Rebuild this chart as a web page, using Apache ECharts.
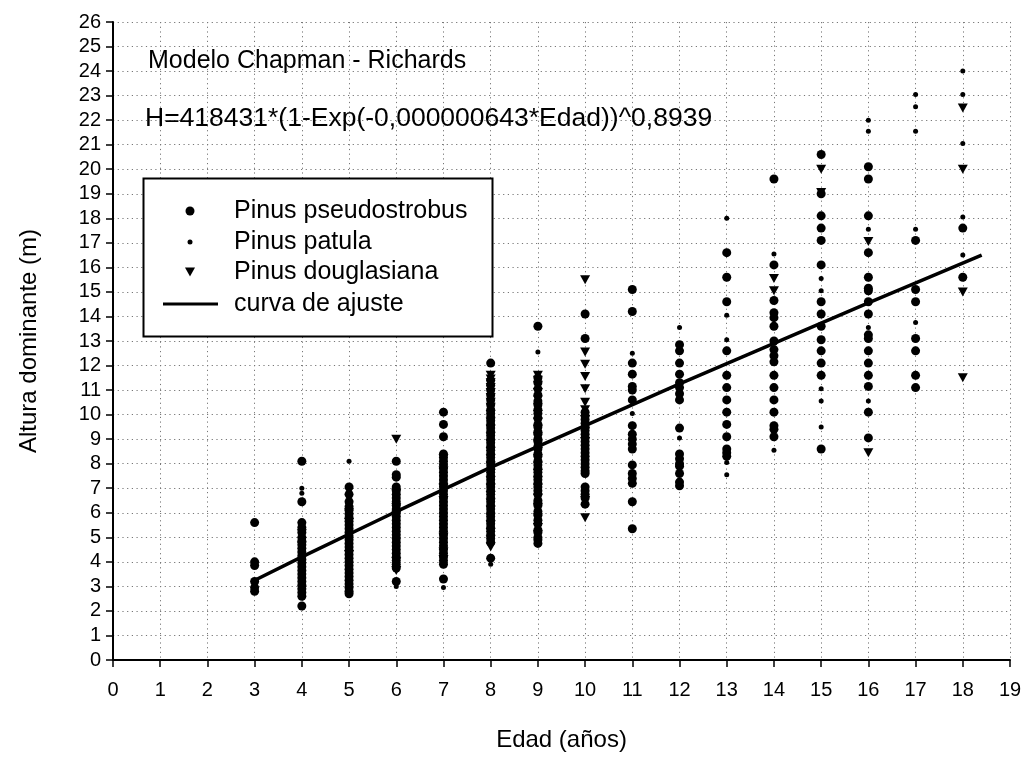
<!DOCTYPE html>
<html>
<head>
<meta charset="utf-8">
<script src="https://cdn.jsdelivr.net/npm/echarts@6/dist/echarts.min.js"></script>
<style>
  html, body { margin: 0; padding: 0; background: #fff; }
  #chart { width: 1026px; height: 762px; }
</style>
</head>
<body>
<div id="chart"></div>
<script>
// Stand ages (years) used as the x columns
const ages = [3, 4, 5, 6, 7, 8, 9, 10, 11, 12, 13, 14, 15, 16, 17, 18];

// Dominant heights (m) per age, one inner list per entry of `ages`
const pseudostrobus = [
  [5.6, 4.0, 3.85, 3.2, 2.95, 2.8],
  [8.1, 6.45, 5.6, 5.4, 5.2, 5.0, 4.85, 4.7, 4.55, 4.4, 4.25, 4.1, 3.95, 3.8, 3.65, 3.5, 3.35, 3.2, 3.05, 2.9, 2.75, 2.6, 2.2],
  [7.05, 6.75, 6.45, 6.25, 6.1, 5.95, 5.8, 5.65, 5.5, 5.35, 5.2, 5.05, 4.9, 4.75, 4.6, 4.45, 4.3, 4.15, 4.0, 3.85, 3.7, 3.55, 3.4, 3.25, 3.1, 2.95, 2.8, 2.7],
  [8.1, 7.55, 7.45, 7.05, 6.9, 6.75, 6.6, 6.45, 6.3, 6.15, 6.0, 5.85, 5.7, 5.55, 5.4, 5.25, 5.1, 4.95, 4.8, 4.65, 4.5, 4.35, 4.2, 4.05, 3.9, 3.75, 3.2],
  [10.1, 9.6, 9.1, 8.4, 8.25, 8.1, 7.95, 7.8, 7.65, 7.5, 7.35, 7.2, 7.05, 6.9, 6.75, 6.6, 6.45, 6.3, 6.15, 6.0, 5.85, 5.7, 5.55, 5.4, 5.25, 5.1, 4.95, 4.8, 4.65, 4.5, 4.35, 4.2, 4.05, 3.9, 3.3],
  [12.1, 11.4, 11.2, 11.0, 10.8, 10.6, 10.4, 10.2, 10.05, 9.9, 9.75, 9.6, 9.45, 9.3, 9.15, 9.0, 8.85, 8.7, 8.55, 8.4, 8.25, 8.1, 7.95, 7.8, 7.65, 7.5, 7.35, 7.2, 7.05, 6.9, 6.75, 6.6, 6.45, 6.3, 6.15, 6.0, 5.85, 5.7, 5.55, 5.4, 5.25, 5.1, 4.95, 4.8, 4.15],
  [13.6, 11.5, 11.3, 11.05, 10.8, 10.55, 10.4, 10.2, 10.05, 9.85, 9.6, 9.5, 9.3, 9.2, 9.0, 8.9, 8.7, 8.6, 8.4, 8.3, 8.1, 7.95, 7.8, 7.65, 7.5, 7.35, 7.2, 7.05, 6.9, 6.75, 6.5, 6.4, 6.3, 6.05, 5.9, 5.7, 5.55, 5.3, 5.2, 5.0, 4.9, 4.75],
  [14.1, 13.1, 10.1, 9.95, 9.8, 9.65, 9.5, 9.35, 9.2, 9.05, 8.9, 8.75, 8.6, 8.45, 8.3, 8.15, 8.0, 7.85, 7.7, 7.6, 7.05, 6.9, 6.75, 6.6, 6.35],
  [15.1, 14.2, 12.1, 11.65, 11.15, 11.0, 10.6, 9.55, 9.2, 9.0, 8.8, 8.6, 7.95, 7.6, 7.4, 7.2, 6.45, 5.35],
  [12.85, 12.6, 12.1, 11.65, 11.3, 11.1, 10.85, 10.6, 9.45, 8.4, 8.2, 8.0, 7.9, 7.6, 7.25, 7.1],
  [16.6, 15.6, 14.6, 12.6, 11.6, 11.1, 10.6, 10.1, 9.6, 9.1, 8.6, 8.45, 8.3],
  [19.6, 16.1, 14.65, 14.15, 13.95, 13.6, 13.0, 12.65, 12.4, 12.15, 11.6, 11.1, 10.6, 10.1, 9.55, 9.4, 9.1],
  [20.6, 19.0, 18.1, 17.6, 17.1, 16.1, 14.6, 14.1, 13.6, 13.05, 12.6, 12.1, 11.6, 8.6],
  [20.1, 19.6, 18.1, 16.6, 15.6, 15.15, 15.05, 14.6, 14.1, 13.25, 13.1, 12.6, 12.1, 11.6, 11.15, 10.1, 9.05],
  [17.1, 15.1, 14.6, 13.1, 12.6, 11.6, 11.1],
  [17.6, 15.6]
];

const patula = [
  [],
  [7.0, 6.8, 5.3, 4.5, 3.0],
  [8.1, 6.6, 5.0],
  [3.0],
  [2.95],
  [3.9],
  [12.55],
  [],
  [12.5, 10.05],
  [13.55, 9.05],
  [18.0, 14.05, 13.05, 8.05, 7.55],
  [16.55, 8.55],
  [15.55, 15.05, 11.05, 10.55, 9.5],
  [22.0, 21.55, 17.55, 13.55, 10.55],
  [23.05, 22.55, 21.55, 17.55, 13.75],
  [24.0, 23.05, 21.05, 18.05, 16.5]
];

const douglasiana = [
  [],
  [5.15, 4.65],
  [6.0, 5.6, 4.3],
  [9.0, 6.8, 6.2, 5.9, 4.0, 3.65],
  [8.2, 7.7, 7.0, 6.5, 5.0, 4.4, 4.1],
  [11.6, 11.45, 11.3, 11.1, 10.9, 10.7, 10.5, 10.3, 10.0, 9.7, 9.4, 9.1, 8.8, 8.5, 8.2, 7.9, 7.6, 7.3, 7.0, 6.7, 6.4, 6.1, 5.8, 5.5, 5.2, 4.9, 4.6],
  [11.6, 11.4, 11.2, 10.9, 10.6, 10.3, 10.0, 9.7, 9.4, 9.1, 8.8, 8.5, 8.2, 7.9, 7.6, 7.3, 7.0, 6.6, 6.2, 5.8, 5.4, 5.1],
  [15.5, 12.55, 12.05, 11.55, 11.05, 10.5, 10.2, 9.8, 9.3, 8.9, 6.5, 5.8],
  [],
  [],
  [],
  [15.55, 15.05],
  [20.0, 19.05],
  [17.05, 8.45],
  [],
  [22.5, 20.0, 15.0, 11.5]
];

// Fitted Chapman-Richards curve, sampled along the age range
const curveAges = [2.95, 4, 6, 8, 10, 12, 14, 16, 18.4];
const curveHeights = [3.2, 4.2, 6.05, 7.85, 9.55, 11.25, 12.9, 14.55, 16.5];

const seriesNames = ['Pinus pseudostrobus', 'Pinus patula', 'Pinus douglasiana', 'curva de ajuste'];

const xTicks = { min: 0, max: 19, step: 1 };
const yTicks = { min: 0, max: 26, step: 1 };

const FONT = 'Liberation Sans, Arial, sans-serif';
const TRIANGLE_DOWN = 'path://M0,0L10,0L5,9Z';

function toPairs(columns) {
  const out = [];
  columns.forEach((heights, i) => heights.forEach(h => out.push([ages[i], h])));
  return out;
}

// Boxed key drawn in the upper-left corner of the plot
const KEY = { x: 143.5, y: 178.5, w: 349, h: 158, iconX: 190, textX: 234, rows: [211, 242, 272, 304] };
const keyText = (text, y) => ({
  type: 'text', z: 5, x: KEY.textX, y,
  style: { text, fill: '#000', font: '25px ' + FONT, textVerticalAlign: 'middle', verticalAlign: 'middle' }
});
const keyGraphics = [
  { type: 'rect', z: 4, shape: { x: KEY.x, y: KEY.y, width: KEY.w, height: KEY.h },
    style: { fill: '#fff', stroke: '#000', lineWidth: 2 } },
  { type: 'circle', z: 5, shape: { cx: KEY.iconX, cy: KEY.rows[0], r: 4.5 }, style: { fill: '#000' } },
  { type: 'circle', z: 5, shape: { cx: KEY.iconX, cy: KEY.rows[1], r: 2.5 }, style: { fill: '#000' } },
  { type: 'polygon', z: 5, shape: { points: [[KEY.iconX - 5, KEY.rows[2] - 4.5], [KEY.iconX + 5, KEY.rows[2] - 4.5], [KEY.iconX, KEY.rows[2] + 4.5]] },
    style: { fill: '#000' } },
  { type: 'line', z: 5, shape: { x1: KEY.iconX - 27, y1: KEY.rows[3], x2: KEY.iconX + 28, y2: KEY.rows[3] },
    style: { stroke: '#000', lineWidth: 3 } },
  keyText(seriesNames[0], KEY.rows[0]),
  keyText(seriesNames[1], KEY.rows[1]),
  keyText(seriesNames[2], KEY.rows[2]),
  keyText(seriesNames[3], KEY.rows[3])
];

const chart = echarts.init(document.getElementById('chart'), null, { renderer: 'canvas' });

const titleStyle = (size) => ({ fontSize: size, fontWeight: 'normal', color: '#000', fontFamily: FONT, lineHeight: size });

chart.setOption({
  animation: false,
  backgroundColor: '#fff',
  textStyle: { fontFamily: FONT },
  title: [
    { text: 'Modelo Chapman - Richards', left: 148, top: 49, padding: 0, textStyle: titleStyle(25) },
    { text: 'H=418431*(1-Exp(-0,000000643*Edad))^0,8939', left: 145, top: 105, padding: 0, textStyle: titleStyle(26.5) }
  ],
  grid: { left: 113, right: 16, top: 22, bottom: 102, containLabel: false },
  graphic: keyGraphics,
  xAxis: {
    type: 'value', min: xTicks.min, max: xTicks.max, interval: xTicks.step,
    name: 'Edad (años)', nameLocation: 'middle', nameGap: 68,
    nameTextStyle: { fontSize: 24, color: '#000', fontFamily: FONT },
    axisLine: { show: true, onZero: false, lineStyle: { color: '#000', width: 2 } },
    axisTick: { show: true, inside: false, length: 7, lineStyle: { color: '#000', width: 1.5 } },
    axisLabel: { fontSize: 20, color: '#000', margin: 20, fontFamily: FONT },
    splitLine: { show: true, lineStyle: { color: '#777', width: 1, type: [1.2, 3.5] } }
  },
  yAxis: {
    type: 'value', min: yTicks.min, max: yTicks.max, interval: yTicks.step,
    name: 'Altura dominante (m)', nameLocation: 'middle', nameGap: 72,
    nameTextStyle: { fontSize: 24, color: '#000', fontFamily: FONT },
    axisLine: { show: true, onZero: false, lineStyle: { color: '#000', width: 2 } },
    axisTick: { show: true, inside: false, length: 7, lineStyle: { color: '#000', width: 1.5 } },
    axisLabel: { fontSize: 20, color: '#000', margin: 12, fontFamily: FONT },
    splitLine: { show: true, lineStyle: { color: '#777', width: 1, type: [1.2, 3.5] } }
  },
  series: [
    { name: seriesNames[0], type: 'scatter', symbol: 'circle', symbolSize: 9,
      itemStyle: { color: '#000', opacity: 1 }, data: toPairs(pseudostrobus), z: 2 },
    { name: seriesNames[1], type: 'scatter', symbol: 'circle', symbolSize: 5,
      itemStyle: { color: '#000', opacity: 1 }, data: toPairs(patula), z: 2 },
    { name: seriesNames[2], type: 'scatter', symbol: TRIANGLE_DOWN, symbolSize: [10, 9],
      itemStyle: { color: '#000', opacity: 1 }, data: toPairs(douglasiana), z: 2 },
    { name: seriesNames[3], type: 'line', showSymbol: false, symbol: 'none',
      color: '#000', lineStyle: { color: '#000', width: 3.5 }, itemStyle: { color: '#000' },
      data: curveAges.map((a, i) => [a, curveHeights[i]]), z: 3 }
  ]
});
</script>
</body>
</html>
